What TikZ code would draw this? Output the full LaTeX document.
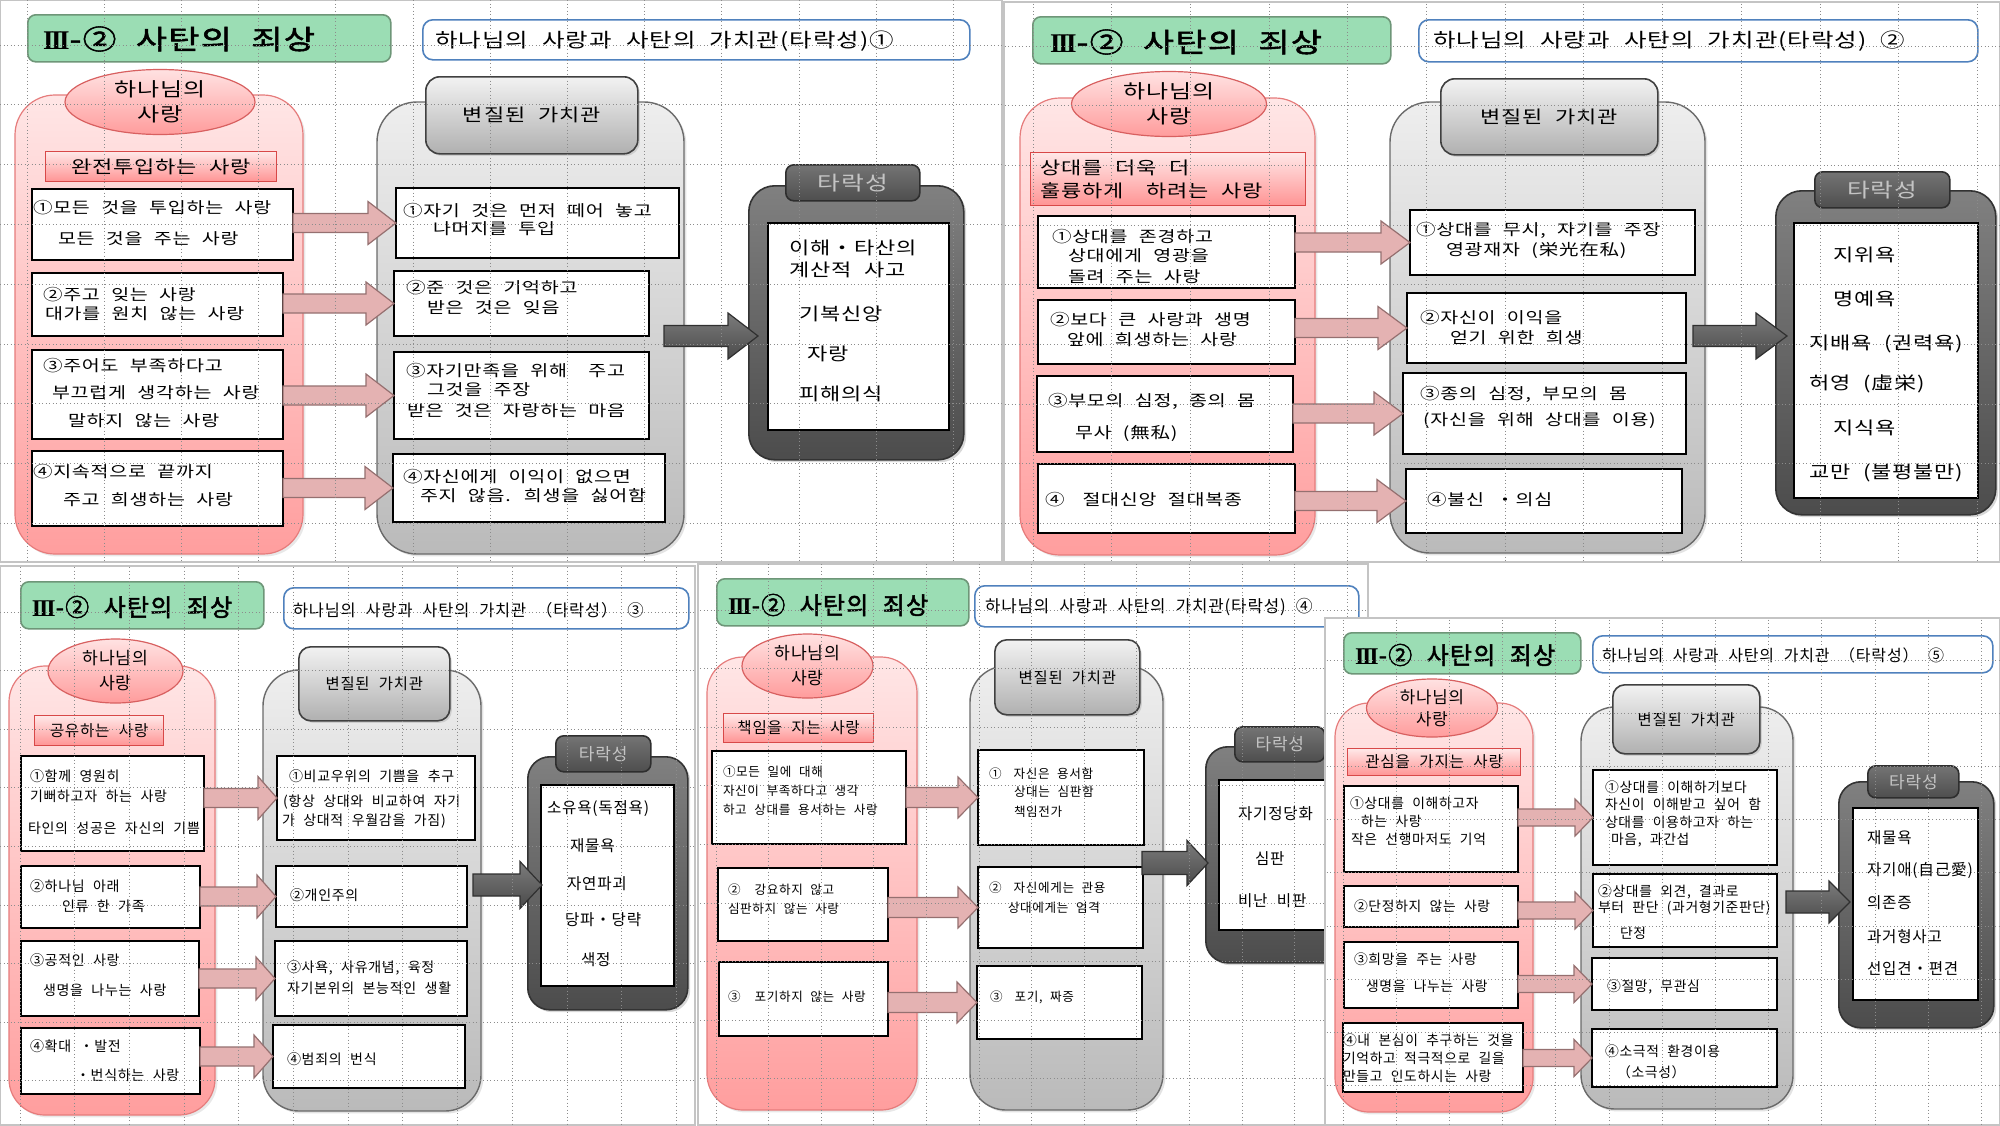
\documentclass[tikz,border=0pt]{standalone}
\usepackage{fontspec}
\usetikzlibrary{calc,shapes.geometric,shadows}
\newfontfamily\fA{Noto Sans CJK KR}[FakeStretch=1.25,LetterSpace=5,WordSpace=2.2]
\newfontfamily\fAB{Noto Sans CJK KR}[FakeStretch=1.25,LetterSpace=5,WordSpace=2.2,FakeBold=2]
\newfontfamily\fB{Noto Sans CJK KR}[LetterSpace=5,WordSpace=2.2]
\newfontfamily\fBB{Noto Sans CJK KR}[LetterSpace=5,WordSpace=2.2,FakeBold=2]
\newfontfamily\rmnum{Liberation Serif}[LetterSpace=-9]

\definecolor{gFill}{HTML}{9BDDB4}
\definecolor{gBd}{HTML}{6E9678}
\definecolor{bBd}{HTML}{4F81BD}
\definecolor{pinkT}{HTML}{FFE6E6}
\definecolor{pinkB}{HTML}{FF9E9E}
\definecolor{pinkBd}{HTML}{E67C7C}
\definecolor{ellT}{HTML}{FFE2E2}
\definecolor{ellB}{HTML}{FF9C9C}
\definecolor{ellBd}{HTML}{D86060}
\definecolor{subT}{HTML}{FFE8E8}
\definecolor{subB}{HTML}{FF9494}
\definecolor{subBd}{HTML}{D84848}
\definecolor{gcT}{HTML}{EEEEEE}
\definecolor{gcB}{HTML}{BABABA}
\definecolor{gcBd}{HTML}{6A6A6A}
\definecolor{ghT}{HTML}{F2F2F2}
\definecolor{ghB}{HTML}{B0B0B0}
\definecolor{ghBd}{HTML}{404040}
\definecolor{dcT}{HTML}{808080}
\definecolor{dcB}{HTML}{4C4C4C}
\definecolor{dcBd}{HTML}{333333}
\definecolor{dhT}{HTML}{747474}
\definecolor{dhB}{HTML}{4E4E4E}
\definecolor{dhBd}{HTML}{2E2E2E}
\definecolor{dhTx}{HTML}{C4C4C4}
\definecolor{paFill}{HTML}{E4B2B2}
\definecolor{paBd}{HTML}{957070}
\definecolor{daT}{HTML}{7C7C7C}
\definecolor{daB}{HTML}{4A4A4A}
\definecolor{daBd}{HTML}{303030}
\definecolor{gridC}{HTML}{8C8C8C}
\definecolor{frameC}{HTML}{C4C4C4}

% fonts panels 1-2
\newcommand\ftA{\fAB\fontsize{13.5}{16}\selectfont}
\newcommand\fhA{\fA\fontsize{9.8}{12}\selectfont}
\newcommand\feA{\fA\fontsize{9.6}{12.5}\selectfont}
\newcommand\fsA{\fA\fontsize{8.8}{11.5}\selectfont}
\newcommand\fbA{\fA\fontsize{7.8}{9.5}\selectfont}
\newcommand\fdA{\fA\fontsize{9.9}{12}\selectfont}
\newcommand\fiA{\fA\fontsize{8.8}{11}\selectfont}
% fonts panels 3-5
\newcommand\ftB{\fBB\fontsize{12}{14}\selectfont}
\newcommand\fhB{\fB\fontsize{8.2}{10}\selectfont}
\newcommand\feB{\fB\fontsize{8.6}{12.5}\selectfont}
\newcommand\feE{\fB\fontsize{8.4}{11}\selectfont}
\newcommand\fsB{\fB\fontsize{7.8}{9.5}\selectfont}
\newcommand\fgB{\fB\fontsize{7.7}{9.5}\selectfont}
\newcommand\fbC{\fB\fontsize{7}{8.5}\selectfont}
\newcommand\fbD{\fB\fontsize{6.3}{8}\selectfont}
\newcommand\fbE{\fB\fontsize{6.9}{8.5}\selectfont}
\newcommand\fdB{\fB\fontsize{8.5}{10}\selectfont}
\newcommand\fiB{\fB\fontsize{7.8}{9.5}\selectfont}
\newcommand\RN{{\rmnum\bfseries III}}

\newcounter{tln}
\newcommand\TL[4]{\stepcounter{tln}\node[txl,#1] (t\arabic{tln}) at (#2,#3) {#4};}
\newcommand\BX[7][]{\node[#2,anchor=north west,minimum width={(#6-#4)*0.5pt},minimum height={(#7-#5)*0.5pt}] (#3) at (#4,#5) {#1};}
% block arrow: style, shaft half, head half, head length, start, start dx, end, end dx, y point
\newcommand\BLA[9]{\path[#1] let \p1=#5, \p2=#7, \p3=#9 in
 ({\x1+(#6)},{\y3+(#2)}) -- ({\x2+(#8)-(#4)},{\y3+(#2)}) -- ({\x2+(#8)-(#4)},{\y3+(#3)}) -- ({\x2+(#8)},\y3) -- ({\x2+(#8)-(#4)},{\y3-(#3)}) -- ({\x2+(#8)-(#4)},{\y3-(#2)}) -- ({\x1+(#6)},{\y3-(#2)}) -- cycle;}
\newcommand\PGRID[6]{%
 \begin{scope}
 \clip #5 rectangle #6;
 \foreach \k in {0,...,13}{\draw[gridl] ({#1+\k*#2},0) -- ({#1+\k*#2},1125);}
 \foreach \k in {0,...,9}{\draw[gridl] (0,{#3+\k*#4}) -- (2000,{#3+\k*#4});}
 \end{scope}}

\begin{document}
\begin{tikzpicture}[x=0.5pt,y=-0.5pt,
 txl/.style={anchor=west,inner sep=0pt,outer sep=0pt},
 pframe/.style={draw=frameC,line width=0.6pt,fill=white},
 gridl/.style={draw=gridC,line width=0.45pt,dash pattern=on 0.45pt off 1.3pt},
 wbox/.style={draw=black,line width=0.7pt,fill=white,inner sep=0pt,outer sep=0pt},
 greent/.style={draw=gBd,line width=0.8pt,fill=gFill,rounded corners=4pt,inner sep=0pt},
 bluet/.style={draw=bBd,line width=0.8pt,fill=white,rounded corners=5pt,inner sep=0pt},
 pinkc/.style={draw=pinkBd,line width=0.6pt,top color=pinkT,bottom color=pinkB,rounded corners=20pt,inner sep=0pt,outer sep=0pt,drop shadow={opacity=0.18,shadow xshift=1.2pt,shadow yshift=-1.2pt}},
 ell/.style={ellipse,draw=ellBd,line width=0.6pt,top color=ellT,bottom color=ellB,inner sep=0pt,align=center},
 subh/.style={draw=subBd,line width=0.6pt,top color=subT,bottom color=subB,inner sep=0pt},
 grayc/.style={draw=gcBd,line width=0.7pt,top color=gcT,bottom color=gcB,rounded corners=20pt,inner sep=0pt,outer sep=0pt,drop shadow={opacity=0.22,shadow xshift=1.2pt,shadow yshift=-1.2pt}},
 grayh/.style={draw=ghBd,line width=0.8pt,top color=ghT,bottom color=ghB,rounded corners=7pt,inner sep=0pt,drop shadow={opacity=0.25,shadow xshift=1pt,shadow yshift=-1pt}},
 darkc/.style={draw=dcBd,line width=0.8pt,top color=dcT,bottom color=dcB,rounded corners=13pt,inner sep=0pt,drop shadow={opacity=0.3,shadow xshift=1.2pt,shadow yshift=-1.2pt}},
 darkh/.style={draw=dhBd,line width=0.8pt,top color=dhT,bottom color=dhB,rounded corners=4pt,inner sep=0pt,text=dhTx},
 parrow/.style={draw=paBd,line width=0.6pt,fill=paFill},
 darrow/.style={draw=daBd,line width=0.6pt,top color=daT,bottom color=daB}]
\useasboundingbox (0,0) rectangle (2000,1125);
\fill[white] (0,0) rectangle (2000,1125);

%================ PANEL 1
\draw[pframe] (0,0) rectangle (1002,562);
\BX{greent}{G1}{27}{14}{390}{61}
\TL{font=\ftA}{43}{39}{\RN-② 사탄의 죄상}
\BX{bluet}{B1}{422}{19}{969}{59}
\TL{font=\fhA}{435}{41}{하나님의 사랑과 사탄의 가치관(타락성)①}
\BX{pinkc}{PC1}{15}{95}{303}{554}
\node[ell,font=\feA,minimum width=95pt,minimum height=32.5pt] (E1) at (160,102) {하나님의\\사랑};
\BX[완전투입하는 사랑]{subh,font=\fsA}{S1}{45}{151}{276}{181}
\BX{wbox}{L11}{32}{189}{293}{260}
\BX{wbox}{L12}{32}{273}{283}{336}
\BX{wbox}{L13}{32}{350}{283}{439}
\BX{wbox}{L14}{32}{451}{283}{526}
\BX{grayc}{GC1}{377}{102}{684}{554}
\BX[변질된 가치관]{grayh,font=\fsA}{GH1}{425}{76}{637}{153}
\BX{wbox}{R11}{396}{188}{679}{258}
\BX{wbox}{R12}{394}{271}{649}{336}
\BX{wbox}{R13}{394}{352}{649}{439}
\BX{wbox}{R14}{393}{454}{665}{522}
\BX{darkc}{DC1}{748}{185}{963}{459}
\BX[타락성]{darkh,font=\fdA}{DH1}{785}{164}{919}{200}
\BX{wbox}{W1}{768}{223}{949}{430}
\BLA{parrow}{4.75pt}{10.75pt}{14pt}{(L11.east)}{0pt}{(R11.west)}{0pt}{(R11.west)}
\BLA{parrow}{4.75pt}{10.75pt}{14pt}{(L12.east)}{0pt}{(R12.west)}{0pt}{(R12.west)}
\BLA{parrow}{4.75pt}{10.75pt}{14pt}{(L13.east)}{0pt}{(R13.west)}{0pt}{(R13.west)}
\BLA{parrow}{4.75pt}{10.75pt}{14pt}{(L14.east)}{0pt}{(R14.west)}{0pt}{(R14.west)}
\BLA{darrow}{5.25pt}{11.5pt}{15pt}{(GC1.east)}{-10pt}{(DC1.west)}{5pt}{(0,336)}
\TL{font=\fbA}{33}{208}{①모든 것을 투입하는 사랑}
\TL{font=\fbA}{58}{239}{모든 것을 주는 사랑}
\TL{font=\fbA}{43}{295}{②주고 잊는 사랑}
\TL{font=\fbA}{45}{314}{대가를 원치 않는 사랑}
\TL{font=\fbA}{43}{366}{③주어도 부족하다고}
\TL{font=\fbA}{52}{393}{부끄럽게 생각하는 사랑}
\TL{font=\fbA}{68}{421}{말하지 않는 사랑}
\TL{font=\fbA}{33}{472}{④지속적으로 끝까지}
\TL{font=\fbA}{63}{500}{주고 희생하는 사랑}
\TL{font=\fbA}{403}{211}{①자기 것은 먼저 떼어 놓고}
\TL{font=\fbA}{433}{229}{나머지를 투입}
\TL{font=\fbA}{406}{288}{②준 것은 기억하고}
\TL{font=\fbA}{427}{308}{받은 것은 잊음}
\TL{font=\fbA}{406}{371}{③자기만족을 위해\hspace{5pt} 주고}
\TL{font=\fbA}{427}{390}{그것을 주장}
\TL{font=\fbA}{407}{411}{받은 것은 자랑하는 마음}
\TL{font=\fbA}{403}{477}{④자신에게 이익이 없으면}
\TL{font=\fbA}{420}{496}{주지 않음. 희생을 싫어함}
\TL{font=\fiA}{789}{248}{이해・타산의}
\TL{font=\fiA}{789}{270}{계산적 사고}
\TL{font=\fiA}{799}{314}{기복신앙}
\TL{font=\fiA}{807}{354}{자랑}
\TL{font=\fiA}{799}{394}{피해의식}
\PGRID{27}{77.2}{45}{59.8}{(0,0)}{(1002,562)}

%================ PANEL 2
\draw[pframe] (1004,2) rectangle (2000,562);
\BX{greent}{G2}{1032}{16}{1390}{63}
\TL{font=\ftA}{1050}{42}{\RN-② 사탄의 죄상}
\BX{bluet}{B2}{1418}{19}{1977}{61}
\TL{font=\fhA}{1433}{41}{하나님의 사랑과 사탄의 가치관(타락성) ②}
\BX{pinkc}{PC2}{1020}{98}{1315}{555}
\node[ell,font=\feA,minimum width=97.5pt,minimum height=32.5pt] (E2) at (1169,104) {하나님의\\사랑};
\BX{subh}{S2}{1030}{152}{1305}{205}
\BX{wbox}{L21}{1038}{216}{1295}{288}
\BX{wbox}{L22}{1038}{300}{1295}{364}
\BX{wbox}{L23}{1037}{376}{1293}{452}
\BX{wbox}{L24}{1038}{464}{1295}{533}
\BX{grayc}{GC2}{1390}{102}{1705}{553}
\BX[변질된 가치관]{grayh,font=\fsA}{GH2}{1440}{78}{1657}{154}
\BX{wbox}{R21}{1410}{210}{1695}{275}
\BX{wbox}{R22}{1407}{293}{1686}{363}
\BX{wbox}{R23}{1403}{373}{1686}{454}
\BX{wbox}{R24}{1406}{469}{1682}{533}
\BX{darkc}{DC2}{1775}{190}{1995}{514}
\BX[타락성]{darkh,font=\fdA}{DH2}{1814}{171}{1949}{207}
\BX{wbox}{W2}{1794}{223}{1978}{498}
\BLA{parrow}{4.75pt}{10.75pt}{14.5pt}{(L21.east)}{0pt}{(R21.west)}{0pt}{(R21.west)}
\BLA{parrow}{4.75pt}{10.75pt}{14.5pt}{(L22.east)}{0pt}{(R22.west)}{0pt}{(R22.west)}
\BLA{parrow}{4.75pt}{10.75pt}{14.5pt}{(L23.east)}{0pt}{(R23.west)}{0pt}{(R23.west)}
\BLA{parrow}{4.75pt}{10.75pt}{14.5pt}{(L24.east)}{0pt}{(R24.west)}{0pt}{(R24.west)}
\BLA{darrow}{5.25pt}{11.5pt}{15.5pt}{(GC2.east)}{-6pt}{(DC2.west)}{6pt}{(0,336)}
\TL{font=\fsA}{1040}{168}{상대를 더욱 더}
\TL{font=\fsA}{1040}{191}{훌륭하게\hspace{5pt} 하려는 사랑}
\TL{font=\fbA}{1052}{237}{①상대를 존경하고}
\TL{font=\fbA}{1068}{256}{상대에게 영광을}
\TL{font=\fbA}{1068}{277}{돌려 주는 사랑}
\TL{font=\fbA}{1050}{320}{②보다 큰 사랑과 생명}
\TL{font=\fbA}{1067}{340}{앞에 희생하는 사랑}
\TL{font=\fbA}{1048}{401}{③부모의 심정, 종의 몸}
\TL{font=\fbA}{1075}{433}{무사 (無私)}
\TL{font=\fbA}{1045}{500}{④\hspace*{9pt}절대신앙 절대복종}
\TL{font=\fbA}{1416}{230}{①상대를 무시, 자기를 주장}
\TL{font=\fbA}{1446}{250}{영광재자 (栄光在私)}
\TL{font=\fbA}{1420}{318}{②자신이 이익을}
\TL{font=\fbA}{1450}{338}{얻기 위한 희생}
\TL{font=\fbA}{1420}{394}{③종의 심정, 부모의 몸}
\TL{font=\fbA}{1423}{421}{(자신을 위해 상대를 이용)}
\TL{font=\fbA}{1427}{500}{④불신 ・의심}
\TL{font=\fiA}{1833}{255}{지위욕}
\TL{font=\fiA}{1833}{299}{명예욕}
\TL{font=\fiA}{1809}{344}{지배욕 (권력욕)}
\TL{font=\fiA}{1809}{384}{허영 (虛栄)}
\TL{font=\fiA}{1833}{428}{지식욕}
\TL{font=\fiA}{1809}{473}{교만 (불평불만)}
\PGRID{1033}{78.7}{46}{59.7}{(1004,2)}{(2000,562)}

%================ PANEL 3
\draw[pframe] (0,566) rectangle (695,1125);
\BX{greent}{G3}{20}{581}{263}{628}
\TL{font=\ftB}{32}{607}{\RN-② 사탄의 죄상}
\BX{bluet}{B3}{283}{587}{688}{628}
\TL{font=\fhB}{293}{610}{하나님의 사랑과 사탄의 가치관 （타락성） ③}
\BX{pinkc,rounded corners=18pt}{PC3}{9}{666}{215}{1115}
\node[ell,font=\feB,minimum width=67.5pt,minimum height=32pt] (E3) at (115.5,671) {하나님의\\사랑};
\BX[공유하는 사랑]{subh,font=\fsB}{S3}{34}{715}{163}{745}
\BX{wbox}{L31}{21}{756}{204}{851}
\BX{wbox}{L32}{21}{866}{200}{928}
\BX{wbox}{L33}{21}{941}{199}{1016}
\BX{wbox}{L34}{21}{1028}{200}{1094}
\BX{grayc,rounded corners=18pt}{GC3}{263}{670}{481}{1111}
\BX[변질된 가치관]{grayh,rounded corners=6pt,font=\fgB}{GH3}{298}{646}{449}{720}
\BX{wbox}{R31}{277}{756}{475}{840}
\BX{wbox}{R32}{276}{866}{467}{927}
\BX{wbox}{R33}{275}{941}{467}{1016}
\BX{wbox}{R34}{273}{1025}{465}{1088}
\BX{darkc,rounded corners=11pt}{DC3}{527}{756}{687}{1009}
\BX[타락성]{darkh,font=\fdB}{DH3}{555}{735}{650}{771}
\BX{wbox}{W3}{541}{785}{674}{986}
\BLA{parrow}{4.75pt}{10.75pt}{9.5pt}{(L31.east)}{0pt}{(R31.west)}{0pt}{(R31.west)}
\BLA{parrow}{4.75pt}{10.75pt}{9.5pt}{(L32.east)}{0pt}{(R32.west)}{0pt}{(R32.west)}
\BLA{parrow}{4.75pt}{10.75pt}{9.5pt}{(L33.east)}{0pt}{(R33.west)}{0pt}{(R33.west)}
\BLA{parrow}{4.75pt}{10.75pt}{9.5pt}{(L34.east)}{0pt}{(R34.west)}{0pt}{(R34.west)}
\BLA{darrow}{5.5pt}{11.75pt}{11pt}{(GC3.east)}{-4pt}{(DC3.west)}{7.5pt}{(0,885)}
\TL{font=\fbC}{30}{776}{①함께 영원히}
\TL{font=\fbC}{30}{796}{기뻐하고자 하는 사랑}
\TL{font=\fbC}{28}{828}{타인의 성공은 자신의 기쁨}
\TL{font=\fbC}{30}{886}{②하나님 아래}
\TL{font=\fbC}{62}{906}{인류 한 가족}
\TL{font=\fbC}{30}{960}{③공적인 사랑}
\TL{font=\fbC}{43}{990}{생명을 나누는 사랑}
\TL{font=\fbC}{30}{1046}{④확대 ・발전}
\TL{font=\fbC}{76}{1075}{・번식하는 사랑}
\TL{font=\fbC}{289}{776}{①비교우위의 기쁨을 추구}
\TL{font=\fbC}{283}{802}{(항상 상대와 비교하여 자기}
\TL{font=\fbC}{282}{821}{가 상대적 우월감을 가짐)}
\TL{font=\fbC}{290}{895}{②개인주의}
\TL{font=\fbC}{287}{968}{③사욕, 사유개념, 육정}
\TL{font=\fbC}{287}{988}{자기본위의 본능적인 생활}
\TL{font=\fbC}{287}{1059}{④범죄의 번식}
\TL{font=\fiB}{547}{809}{소유욕(독점욕)}
\TL{font=\fiB}{570}{846}{재물욕}
\TL{font=\fiB}{567}{884}{자연파괴}
\TL{font=\fiB}{565}{920}{당파・당략}
\TL{font=\fiB}{581}{960}{색정}
\PGRID{20}{54.7}{612}{58.6}{(0,566)}{(695,1125)}

%================ PANEL 4
\draw[pframe] (698,564) rectangle (1368,1125);
\BX{greent}{G4}{716}{578}{968}{625}
\TL{font=\ftB}{728}{605}{\RN-② 사탄의 죄상}
\BX{bluet}{B4}{974}{585}{1358}{626}
\TL{font={\fB\fontsize{8.4}{10}\selectfont}}{985}{607}{하나님의 사랑과 사탄의 가치관(타락성) ④}
\BX{pinkc,rounded corners=18pt}{PC4}{707}{657}{917}{1110}
\node[ell,font=\feB,minimum width=65.5pt,minimum height=32pt] (E4) at (807.5,666) {하나님의\\사랑};
\BX[책임을 지는 사랑]{subh,font=\fsB}{S4}{723}{713}{873}{742}
\BX{wbox}{L41}{712}{751}{906}{844}
\BX{wbox}{L42}{718}{868}{888}{941}
\BX{wbox}{L43}{719}{962}{888}{1036}
\BX{grayc,rounded corners=18pt}{GC4}{970}{666}{1163}{1110}
\BX[변질된 가치관]{grayh,rounded corners=6pt,font=\fgB}{GH4}{994}{639}{1139}{714}
\BX{wbox}{R41}{978}{750}{1144}{845}
\BX{wbox}{R42}{978}{867}{1143}{948}
\BX{wbox}{R43}{977}{966}{1142}{1039}
\BX{darkc,rounded corners=11pt}{DC4}{1205}{746}{1372}{962}
\BX[타락성]{darkh,font=\fdB}{DH4}{1234}{726}{1324}{761}
\BX{wbox}{W4}{1219}{780}{1358}{930}
\BLA{parrow}{5pt}{10.25pt}{10pt}{(L41.east)}{0pt}{(R41.west)}{0pt}{(R41.west)}
\BLA{parrow}{5pt}{10.25pt}{10pt}{(L42.east)}{0pt}{(R42.west)}{0pt}{(R42.west)}
\BLA{parrow}{5pt}{10.25pt}{10pt}{(L43.east)}{0pt}{(R43.west)}{0pt}{(R43.west)}
\BLA{darrow}{5.75pt}{11.25pt}{10.5pt}{(GC4.east)}{-10.5pt}{(DC4.west)}{1.5pt}{(0,863)}
\TL{font=\fbD}{723}{772}{①모든 일에 대해}
\TL{font=\fbD}{723}{791}{자신이 부족하다고 생각}
\TL{font=\fbD}{723}{810}{하고 상대를 용서하는 사랑}
\TL{font=\fbD}{728}{890}{②\hspace*{7pt}강요하지 않고}
\TL{font=\fbD}{728}{909}{심판하지 않는 사랑}
\TL{font=\fbD}{728}{997}{③\hspace*{7pt}포기하지 않는 사랑}
\TL{font=\fbD}{989}{774}{①\hspace*{6pt}자신은 용서함}
\TL{font=\fbD}{1014}{792}{상대는 심판함}
\TL{font=\fbD}{1014}{812}{책임전가}
\TL{font=\fbD}{989}{888}{②\hspace*{6pt}자신에게는 관용}
\TL{font=\fbD}{1008}{908}{상대에게는 엄격}
\TL{font=\fbD}{990}{997}{③\hspace*{6pt}포기, 짜증}
\TL{font=\fiB}{1238}{814}{자기정당화}
\TL{font=\fiB}{1255}{859}{심판}
\TL{font=\fiB}{1238}{901}{비난 비판}
\PGRID{716}{52.6}{610}{58.6}{(698,564)}{(1368,1125)}

%================ PANEL 5
\draw[pframe] (1325,618) rectangle (2000,1125);
\BX{greent}{G5}{1343}{632}{1580}{673}
\TL{font=\ftB}{1355}{655}{\RN-② 사탄의 죄상}
\BX{bluet}{B5}{1592}{635}{1992}{672}
\TL{font={\fB\fontsize{8}{10}\selectfont}}{1602}{655}{하나님의 사랑과 사탄의 가치관 （타락성） ⑤}
\BX{pinkc,rounded corners=17pt}{PC5}{1335}{703}{1533}{1112}
\node[ell,font=\feE,minimum width=65.5pt,minimum height=29pt] (E5) at (1432,708) {하나님의\\사랑};
\BX[관심을 가지는 사랑]{subh,font=\fsB}{S5}{1347}{748}{1520}{775}
\BX{wbox}{L51}{1344}{786}{1518}{872}
\BX{wbox}{L52}{1344}{886}{1518}{927}
\BX{wbox}{L53}{1344}{942}{1518}{1008}
\BX{wbox}{L54}{1343}{1023}{1523}{1092}
\BX{grayc,rounded corners=17pt}{GC5}{1581}{707}{1793}{1109}
\BX[변질된 가치관]{grayh,rounded corners=6pt,font=\fgB}{GH5}{1612}{684}{1759}{753}
\BX{wbox}{R51}{1593}{770}{1777}{865}
\BX{wbox}{R52}{1593}{874}{1777}{947}
\BX{wbox}{R53}{1592}{958}{1777}{1010}
\BX{wbox}{R54}{1592}{1029}{1777}{1087}
\BX{darkc,rounded corners=11pt}{DC5}{1838}{781}{1993}{1027}
\BX[타락성]{darkh,font=\fdB}{DH5}{1867}{765}{1958}{797}
\BX{wbox}{W5}{1853}{808}{1978}{1000}
\BLA{parrow}{4.25pt}{9.25pt}{9pt}{(L51.east)}{0pt}{(R51.west)}{0pt}{(R51.west)}
\BLA{parrow}{4.25pt}{9.25pt}{9pt}{(L52.east)}{0pt}{(R52.west)}{0pt}{(R52.west)}
\BLA{parrow}{4.25pt}{9.25pt}{9pt}{(L53.east)}{0pt}{(R53.west)}{0pt}{(R53.west)}
\BLA{parrow}{4.25pt}{9.25pt}{9pt}{(L54.east)}{0pt}{(R54.west)}{0pt}{(R54.west)}
\BLA{darrow}{5.5pt}{10.5pt}{10.5pt}{(GC5.east)}{-3.5pt}{(DC5.west)}{6pt}{(0,902)}
\TL{font=\fbE}{1350}{803}{①상대를 이해하고자}
\TL{font=\fbE}{1361}{821}{하는 사랑}
\TL{font=\fbE}{1351}{839}{작은 선행마저도 기억}
\TL{font=\fbE}{1354}{906}{②단정하지 않는 사랑}
\TL{font=\fbE}{1354}{959}{③희망을 주는 사랑}
\TL{font=\fbE}{1366}{986}{생명을 나누는 사랑}
\TL{font=\fbE}{1343}{1040}{④내 본심이 추구하는 것을}
\TL{font=\fbE}{1343}{1058}{기억하고 적극적으로 길을}
\TL{font=\fbE}{1343}{1076}{만들고 인도하시는 사랑}
\TL{font=\fbE}{1605}{787}{①상대를 이해하기보다}
\TL{font=\fbE}{1605}{804}{자신이 이해받고 싶어 함}
\TL{font=\fbE}{1605}{822}{상대를 이용하고자 하는}
\TL{font=\fbE}{1611}{840}{마음, 과간섭}
\TL{font=\fbE}{1598}{892}{②상대를 외견, 결과로}
\TL{font=\fbE}{1598}{908}{부터 판단 (과거형기준판단)}
\TL{font=\fbE}{1620}{933}{단정}
\TL{font=\fbE}{1607}{987}{③절망, 무관심}
\TL{font=\fbE}{1605}{1051}{④소극적 환경이용}
\TL{font=\fbE}{1617}{1072}{（소극성）}
\TL{font=\fiB}{1867}{838}{재물욕}
\TL{font=\fiB}{1867}{870}{자기애(自己愛)}
\TL{font=\fiB}{1867}{903}{의존증}
\TL{font=\fiB}{1867}{937}{과거형사고}
\TL{font=\fiB}{1867}{969}{선입견・편견}
\PGRID{1343}{53.2}{660}{53.2}{(1325,618)}{(2000,1125)}
\end{tikzpicture}
\end{document}
